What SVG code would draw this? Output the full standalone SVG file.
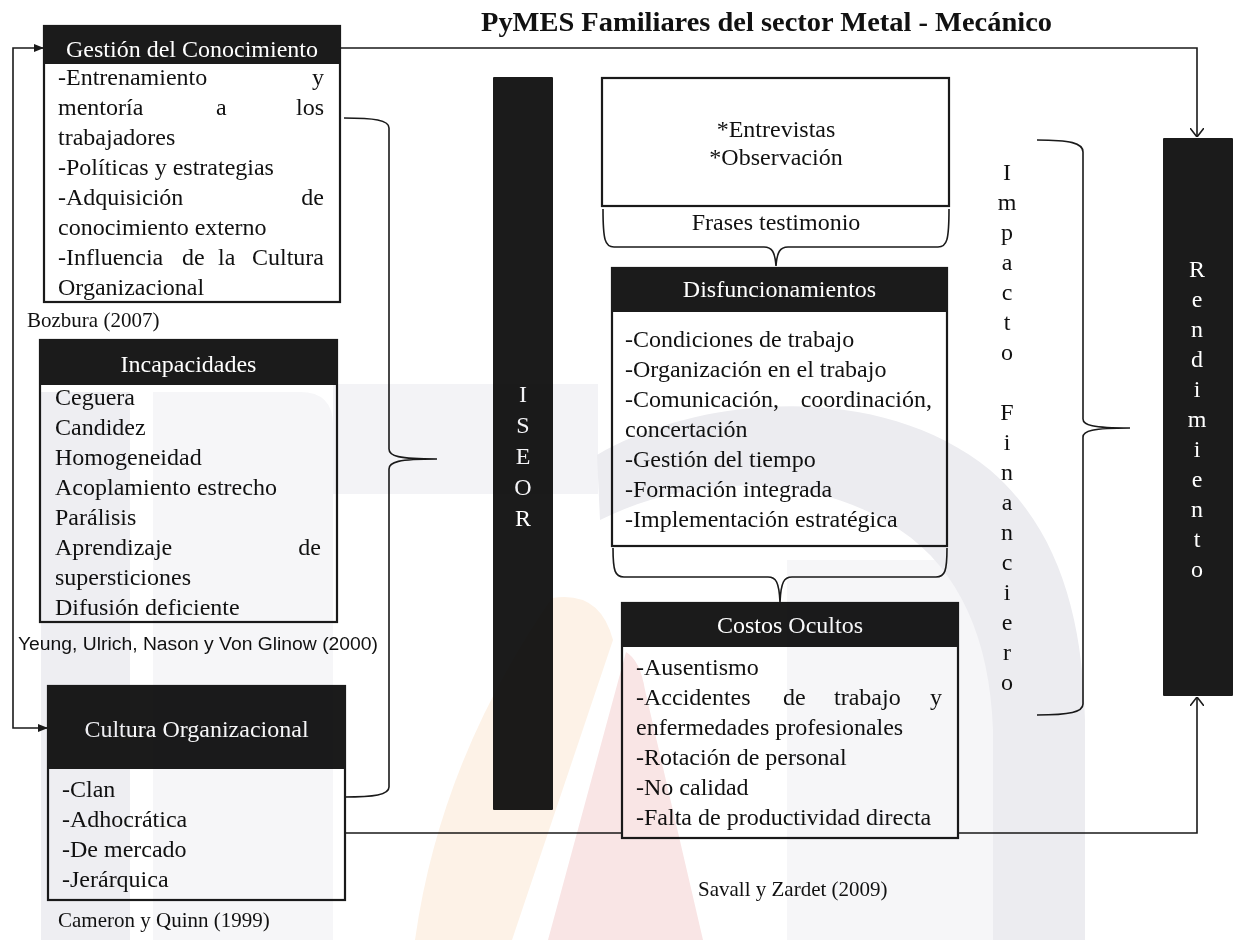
<svg xmlns="http://www.w3.org/2000/svg" width="1233" height="940" viewBox="0 0 1233 940">
  <style>
    .t { font-family: "Liberation Serif", "Times New Roman", serif; font-size: 24px; fill: #111; }
    .h { fill: #fff; text-anchor: middle; }
    .e { text-anchor: end; }
    .m { text-anchor: middle; }
    .cite { font-family: "Liberation Serif", "Times New Roman", serif; font-size: 21px; fill: #111; }
    .sans { font-family: "Liberation Sans", Arial, sans-serif; font-size: 18px; fill: #111; }
    .ttl { font-family: "Liberation Serif", "Times New Roman", serif; font-size: 27px; font-weight: bold; fill: #111; }
    .box { fill: #fff; stroke: #1a1a1a; stroke-width: 2.2; }
    .hd { fill: #1b1b1b; }
    .bar { fill: #1b1b1b; }
    .ln { fill: none; stroke: #1a1a1a; stroke-width: 1.6; }
    .br { fill: none; stroke: #1a1a1a; stroke-width: 1.6; }
  </style>
  <defs>
    <marker id="open" viewBox="0 0 9 14" refX="9" refY="7" markerWidth="9" markerHeight="14" markerUnits="userSpaceOnUse" orient="auto">
      <path d="M0,0 L9,7 L0,14" fill="none" stroke="#1a1a1a" stroke-width="1.6"/>
    </marker>
    <marker id="solid" viewBox="0 0 10 8" refX="10" refY="4" markerWidth="10" markerHeight="8" markerUnits="userSpaceOnUse" orient="auto-start-reverse">
      <path d="M0,0 L10,4 L0,8 Z" fill="#1a1a1a"/>
    </marker>
  </defs>

  <rect width="1233" height="940" fill="#fff"/>

  <!-- title -->
  <text class="ttl" x="481" y="31" textLength="571" lengthAdjust="spacingAndGlyphs">PyMES Familiares  del sector Metal - Mecánico</text>

  <!-- connectors and braces -->
  <g id="connectors">
    <path class="ln" d="M340,48 H1197 V137" marker-end="url(#open)"/>
    <path class="ln" d="M44,48 H13 V728 H48" marker-start="url(#solid)" marker-end="url(#solid)"/>
    <path class="ln" d="M345,833 H1197 V697" marker-end="url(#open)"/>
    <!-- brace gathering the three left boxes -->
    <path class="br" d="M344,118 C374,118 389,120 389,128 L389,449 C389,456 398,459 437,459 C398,459 389,462 389,469 L389,787 C389,795 374,797 344,797"/>
    <!-- brace under the interviews box -->
    <path class="br" d="M603,209 C603,240 605,247 614,247 L764,247 C772,247 775,252 776,266 C777,252 780,247 788,247 L938,247 C947,247 949,240 949,209"/>
    <!-- brace under Disfuncionamientos -->
    <path class="br" d="M613,548 C613,571 615,577 624,577 L768,577 C776,577 779,582 780,602 C781,582 784,577 792,577 L936,577 C945,577 947,571 947,548"/>
    <!-- brace before Rendimiento -->
    <path class="br" d="M1037,140 C1070,140 1083,143 1083,152 L1083,419 C1083,425 1092,428 1130,428 C1092,428 1083,431 1083,437 L1083,704 C1083,712 1070,715 1037,715"/>
  </g>

  <g id="gestion">
    <rect class="box" x="44" y="26" width="296" height="276"/>
    <rect class="hd" x="44" y="26" width="296" height="38"/>
    <text class="t h" x="192" y="57">Gestión del Conocimiento</text>
    <text class="t" x="58" y="85">-Entrenamiento</text><text class="t e" x="324" y="85">y</text>
    <text class="t" x="58" y="115">mentoría</text><text class="t" x="216" y="115">a</text><text class="t e" x="324" y="115">los</text>
    <text class="t" x="58" y="145">trabajadores</text>
    <text class="t" x="58" y="175">-Políticas y estrategias</text>
    <text class="t" x="58" y="205">-Adquisición</text><text class="t e" x="324" y="205">de</text>
    <text class="t" x="58" y="235">conocimiento externo</text>
    <text class="t" x="58" y="265">-Influencia</text><text class="t" x="182" y="265">de</text><text class="t" x="218" y="265">la</text><text class="t e" x="324" y="265">Cultura</text>
    <text class="t" x="58" y="295">Organizacional</text>
  </g>
  <text class="cite" x="27" y="327">Bozbura (2007)</text>

  <g id="incapacidades">
    <rect class="box" x="40" y="340" width="297" height="282"/>
    <rect class="hd" x="40" y="340" width="297" height="45"/>
    <text class="t h" x="188.5" y="372">Incapacidades</text>
    <text class="t" x="55" y="405">Ceguera</text>
    <text class="t" x="55" y="435">Candidez</text>
    <text class="t" x="55" y="465">Homogeneidad</text>
    <text class="t" x="55" y="495">Acoplamiento  estrecho</text>
    <text class="t" x="55" y="525">Parálisis</text>
    <text class="t" x="55" y="555">Aprendizaje</text><text class="t e" x="321" y="555">de</text>
    <text class="t" x="55" y="585">supersticiones</text>
    <text class="t" x="55" y="615">Difusión deficiente</text>
  </g>
  <text class="sans" x="18" y="650" textLength="360" lengthAdjust="spacingAndGlyphs">Yeung, Ulrich, Nason y Von Glinow (2000)</text>

  <g id="cultura">
    <rect class="box" x="48" y="686" width="297" height="214"/>
    <rect class="hd" x="48" y="686" width="297" height="83"/>
    <text class="t h" x="196.5" y="737">Cultura  Organizacional</text>
    <text class="t" x="62" y="797">-Clan</text>
    <text class="t" x="62" y="827">-Adhocrática</text>
    <text class="t" x="62" y="857">-De mercado</text>
    <text class="t" x="62" y="887">-Jerárquica</text>
  </g>
  <text class="cite" x="58" y="927">Cameron y Quinn (1999)</text>

  <g id="iseor">
    <rect class="bar" x="493" y="77" width="60" height="733" rx="1"/>
    <text class="t h" x="523" y="402">I</text>
    <text class="t h" x="523" y="433">S</text>
    <text class="t h" x="523" y="464">E</text>
    <text class="t h" x="523" y="495">O</text>
    <text class="t h" x="523" y="526">R</text>
  </g>

  <g id="entrevistas">
    <rect class="box" x="602" y="78" width="347" height="128"/>
    <text class="t m" x="776" y="137">*Entrevistas</text>
    <text class="t m" x="776" y="165">*Observación</text>
  </g>
  <text class="t m" x="776" y="230">Frases testimonio</text>

  <g id="disfuncionamientos">
    <rect class="box" x="612" y="268" width="335" height="278"/>
    <rect class="hd" x="612" y="268" width="335" height="44"/>
    <text class="t h" x="779.5" y="297">Disfuncionamientos</text>
    <text class="t" x="625" y="347">-Condiciones  de trabajo</text>
    <text class="t" x="625" y="377">-Organización  en el trabajo</text>
    <text class="t" x="625" y="407">-Comunicación,</text><text class="t e" x="932" y="407">coordinación,</text>
    <text class="t" x="625" y="437">concertación</text>
    <text class="t" x="625" y="467">-Gestión  del tiempo</text>
    <text class="t" x="625" y="497">-Formación  integrada</text>
    <text class="t" x="625" y="527">-Implementación  estratégica</text>
  </g>

  <g id="costos">
    <rect class="box" x="622" y="603" width="336" height="235"/>
    <rect class="hd" x="622" y="603" width="336" height="44"/>
    <text class="t h" x="790" y="633">Costos  Ocultos</text>
    <text class="t" x="636" y="675">-Ausentismo</text>
    <text class="t" x="636" y="705">-Accidentes</text><text class="t" x="783" y="705">de</text><text class="t" x="834" y="705">trabajo</text><text class="t e" x="942" y="705">y</text>
    <text class="t" x="636" y="735">enfermedades  profesionales</text>
    <text class="t" x="636" y="765">-Rotación  de personal</text>
    <text class="t" x="636" y="795">-No calidad</text>
    <text class="t" x="636" y="825">-Falta de productividad  directa</text>
  </g>
  <text class="cite" x="698" y="896">Savall y Zardet (2009)</text>

  <g id="impacto">
    <text class="t m" x="1007" y="180">I</text>
    <text class="t m" x="1007" y="210">m</text>
    <text class="t m" x="1007" y="240">p</text>
    <text class="t m" x="1007" y="270">a</text>
    <text class="t m" x="1007" y="300">c</text>
    <text class="t m" x="1007" y="330">t</text>
    <text class="t m" x="1007" y="360">o</text>
    <text class="t m" x="1007" y="420">F</text>
    <text class="t m" x="1007" y="450">i</text>
    <text class="t m" x="1007" y="480">n</text>
    <text class="t m" x="1007" y="510">a</text>
    <text class="t m" x="1007" y="540">n</text>
    <text class="t m" x="1007" y="570">c</text>
    <text class="t m" x="1007" y="600">i</text>
    <text class="t m" x="1007" y="630">e</text>
    <text class="t m" x="1007" y="660">r</text>
    <text class="t m" x="1007" y="690">o</text>
  </g>

  <g id="rendimiento">
    <rect class="bar" x="1163" y="138" width="70" height="558" rx="1"/>
    <text class="t h" x="1197" y="277">R</text>
    <text class="t h" x="1197" y="307">e</text>
    <text class="t h" x="1197" y="337">n</text>
    <text class="t h" x="1197" y="367">d</text>
    <text class="t h" x="1197" y="397">i</text>
    <text class="t h" x="1197" y="427">m</text>
    <text class="t h" x="1197" y="457">i</text>
    <text class="t h" x="1197" y="487">e</text>
    <text class="t h" x="1197" y="517">n</text>
    <text class="t h" x="1197" y="547">t</text>
    <text class="t h" x="1197" y="577">o</text>
  </g>

  <!-- faint background watermark, blended over the drawing -->
  <g id="watermark" style="mix-blend-mode:multiply">
    <rect x="41" y="392" width="89" height="548" fill="#eeeef2"/>
    <path d="M153,392 H300 Q333,392 333,425 V940 H153 Z" fill="#f6f6f8"/>
    <path d="M333,384 H598 V494 H333 Z" fill="#f3f3f6"/>
    <rect x="787" y="560" width="206" height="380" fill="#f6f6f8"/>
    <path d="M597,455 C700,395 880,380 990,470 C1060,530 1083,620 1085,720 L1085,940 L993,940 L993,730 C990,640 960,570 900,530 C820,475 700,470 600,520 Z" fill="#ececf0"/>
    <path d="M552,598 Q600,590 613,640 L512,940 L415,940 Q440,760 552,598 Z" fill="#fdf2e7"/>
    <path d="M626,652 Q640,660 645,690 L703,940 L548,940 Z" fill="#f9e5e5"/>
  </g>
</svg>
